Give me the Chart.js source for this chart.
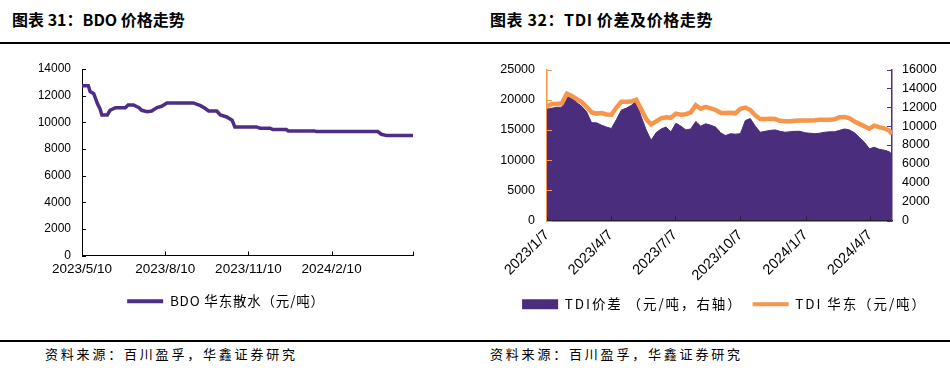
<!DOCTYPE html>
<html>
<head>
<meta charset="utf-8">
<title>BDO / TDI 价格走势</title>
<script src="https://cdn.jsdelivr.net/npm/chart.js"></script>
<style>
  body { margin: 0; width: 950px; height: 376px; background: #fff; position: relative; overflow: hidden; font-family: "Noto Sans CJK SC", sans-serif; }
  .title { position: absolute; top: 9px; font-size: 16px; line-height: 20px; font-weight: 700; color: #000; }
  .rule { position: absolute; left: 0; width: 950px; height: 2px; background: #000; }
  .src { position: absolute; top: 346px; font-size: 13px; line-height: 16px; letter-spacing: 2.8px; color: #000; }
  .box { position: absolute; top: 50px; height: 280px; }
</style>
</head>
<body>
<div class="title" style="left:12px">图表 31：BDO 价格走势</div>
<div class="title" style="left:490px;letter-spacing:0.6px">图表 32：TDI 价差及价格走势</div>
<div class="rule" style="top:42px"></div>
<div class="box" style="left:0;width:440px"><canvas id="bdoChart" width="440" height="280"></canvas></div>
<div class="box" style="left:475px;width:475px"><canvas id="tdiChart" width="475" height="280"></canvas></div>
<div class="rule" style="top:340px"></div>
<div class="src" style="left:45px">资料来源：百川盈孚，华鑫证券研究</div>
<div class="src" style="left:490px">资料来源：百川盈孚，华鑫证券研究</div>
<script>
// BDO 华东散水（元/吨）
const bdoDates = ['2023/5/10','2023/5/17','2023/5/19','2023/5/23','2023/5/27','2023/5/30','2023/6/1','2023/6/7',
  '2023/6/10','2023/6/16','2023/6/27','2023/6/30','2023/7/6','2023/7/12','2023/7/15','2023/7/21','2023/7/26',
  '2023/8/1','2023/8/6','2023/8/12','2023/9/10','2023/9/18','2023/9/23','2023/9/27','2023/10/6','2023/10/10',
  '2023/10/17','2023/10/23','2023/10/26','2023/11/19','2023/11/23','2023/12/4','2023/12/7','2023/12/22',
  '2023/12/24','2024/1/22','2024/1/24','2024/4/1','2024/4/5','2024/4/11','2024/5/10'];
const bdoPrice = [12750,12750,12300,12150,11400,11000,10550,10550,
  10900,11100,11100,11300,11300,11100,10900,10800,10850,
  11100,11200,11450,11450,11250,11050,10850,10850,10550,
  10400,10150,9650,9650,9550,9550,9450,9450,
  9350,9350,9300,9300,9100,9000,9000];
const bdoTickLabels = ['2023/5/10','2023/8/10','2023/11/10','2024/2/10'];
const bdoAxisEnd = '2024/5/10';

// TDI 价差（右轴）与 TDI 华东（左轴）
const tdiDates = ['2023/1/7','2023/1/14','2023/1/21','2023/1/28','2023/2/4','2023/2/11','2023/2/18','2023/2/25',
  '2023/3/4','2023/3/11','2023/3/18','2023/3/25','2023/4/1','2023/4/8','2023/4/15','2023/4/22','2023/4/29',
  '2023/5/6','2023/5/13','2023/5/20','2023/5/27','2023/6/3','2023/6/10','2023/6/17','2023/6/24',
  '2023/7/1','2023/7/8','2023/7/15','2023/7/22','2023/7/29','2023/8/5','2023/8/12','2023/8/19','2023/8/26',
  '2023/9/2','2023/9/9','2023/9/16','2023/9/23','2023/9/30','2023/10/7','2023/10/14','2023/10/21','2023/10/28',
  '2023/11/4','2023/11/11','2023/11/18','2023/11/25','2023/12/2','2023/12/9','2023/12/16','2023/12/23','2023/12/30',
  '2024/1/6','2024/1/13','2024/1/20','2024/1/27','2024/2/3','2024/2/10','2024/2/17','2024/2/24',
  '2024/3/2','2024/3/9','2024/3/16','2024/3/23','2024/3/30','2024/4/6','2024/4/13','2024/4/20','2024/4/27',
  '2024/5/4','2024/5/8'];
const tdiPrice = [18900,19300,19300,19400,21000,20600,20100,19600,
  18800,17900,17700,17800,17550,17500,18700,19650,19650,
  19700,20000,18400,16800,15900,16400,16900,17100,
  17000,17700,17500,17600,17900,19100,18500,18800,18550,
  18300,17850,17800,17850,17750,18500,18700,18300,17400,
  16800,16800,16850,16800,16500,16450,16450,16500,16550,
  16550,16550,16600,16700,16700,16700,16750,17100,
  17150,16900,16400,16000,15600,15200,15700,15450,15250,
  14900,14300];
const tdiSpread = [11800,11900,12000,12000,13600,13100,12500,12100,
  11500,10350,10350,10100,9900,9750,10700,11700,11900,
  12200,12650,11000,9600,8500,9300,9700,9900,
  9400,10300,10000,9600,9700,10500,10000,10250,10100,
  9900,9300,9000,9200,9150,9200,10600,10800,10000,
  9350,9450,9550,9600,9450,9350,9400,9450,9450,
  9300,9250,9200,9250,9350,9400,9400,9550,
  9700,9600,9300,8800,8300,7600,7750,7550,7450,
  7300,7000];
const tdiTickLabels = ['2023/1/7','2023/4/7','2023/7/7','2023/10/7','2024/1/7','2024/4/7'];

const PURPLE = '#4E2D85';
const AREA = '#4B2D7D';
const ORANGE = '#F7964B';
const NUM_FONT = 'Liberation Sans, Arial, sans-serif';
const CJK_FONT = '"Noto Sans CJK SC", sans-serif';

const dayOf = (s, s0) => Math.round((new Date(s) - new Date(s0)) / 864e5);
const plain = v => String(v);

// tick marks pointing into the plot area
function insideTicks(list) {
  return {
    id: 'insideTicks',
    afterDatasetsDraw(chart) {
      const ctx = chart.ctx;
      list.forEach(({ id, color, len }) => {
        const sc = chart.scales[id];
        ctx.save();
        ctx.strokeStyle = color;
        ctx.lineWidth = 1;
        ctx.beginPath();
        sc.ticks.forEach(t => {
          const p = Math.round(sc.getPixelForValue(t.value)) + 0.5;
          if (sc.position === 'bottom') { ctx.moveTo(p, sc.top); ctx.lineTo(p, sc.top - len); }
          else if (sc.position === 'left') { ctx.moveTo(sc.right, p); ctx.lineTo(sc.right + len, p); }
          else { ctx.moveTo(sc.left, p); ctx.lineTo(sc.left - len, p); }
        });
        ctx.stroke();
        ctx.restore();
      });
    }
  };
}

// wider letter spacing for legend text only
function spacedLegend(spacing) {
  return {
    id: 'spacedLegend',
    beforeUpdate(chart) {
      const lg = chart.legend;
      if (!lg || lg._spaced) return;
      lg._spaced = true;
      ['fit', 'draw'].forEach(fn => {
        const orig = lg[fn].bind(lg);
        lg[fn] = (...a) => {
          const prev = chart.ctx.letterSpacing;
          chart.ctx.letterSpacing = spacing;
          const r = orig(...a);
          chart.ctx.letterSpacing = prev;
          return r;
        };
      });
    }
  };
}

function legendOpts(styles) {
  return {
    position: 'bottom',
    labels: {
      usePointStyle: true, pointStyleWidth: 36, boxHeight: 10, padding: 10, color: '#222',
      font: { family: CJK_FONT, size: 13.5 },
      generateLabels: chart => chart.data.datasets.map((ds, i) => ({
        text: ds.label,
        pointStyle: styles[i].style,
        fillStyle: styles[i].color,
        strokeStyle: styles[i].color,
        lineWidth: styles[i].style === 'line' ? 4 : 0,
        datasetIndex: i,
        hidden: false
      }))
    }
  };
}

// ---- left chart: BDO ----
const bdoEnd = dayOf(bdoAxisEnd, bdoDates[0]);
const bdoTickDays = bdoTickLabels.map(d => dayOf(d, bdoDates[0]));

new Chart(document.getElementById('bdoChart'), {
  type: 'line',
  data: {
    datasets: [{
      label: 'BDO 华东散水（元/吨）',
      data: bdoDates.map((d, i) => ({ x: dayOf(d, bdoDates[0]), y: bdoPrice[i] })),
      borderColor: PURPLE, borderWidth: 3.5, pointRadius: 0, tension: 0, fill: false
    }]
  },
  options: {
    responsive: false,
    animation: false,
    layout: { padding: { top: 19, right: 27, bottom: 12, left: 39 } },
    plugins: {
      legend: legendOpts([{ style: 'line', color: PURPLE }]),
      tooltip: { enabled: false }
    },
    scales: {
      x: {
        type: 'linear', min: 0, max: bdoEnd,
        afterBuildTicks: s => { s.ticks = bdoTickDays.concat([bdoEnd]).map(v => ({ value: v })); },
        afterFit: s => { s.height = 29; },
        grid: { display: false, drawTicks: false },
        border: { color: '#000', width: 1 },
        ticks: {
          autoSkip: false, maxRotation: 0, padding: 6, color: '#000',
          font: { family: NUM_FONT, size: 13.5 },
          callback: (v, i) => bdoTickLabels[i] || ''
        }
      },
      y: {
        min: 0, max: 14000,
        afterFit: s => { s.width = 43; },
        grid: { display: false, drawTicks: false },
        border: { color: '#000', width: 1 },
        ticks: { stepSize: 2000, padding: 11, color: '#000', font: { family: NUM_FONT, size: 12 }, callback: plain }
      }
    }
  },
  plugins: [
    insideTicks([{ id: 'x', color: '#000', len: 4 }, { id: 'y', color: '#000', len: 4 }]),
    spacedLegend('0.8px')
  ]
});

// ---- right chart: TDI ----
const tdiEnd = dayOf(tdiDates[tdiDates.length - 1], tdiDates[0]);
const tdiTickDays = tdiTickLabels.map(d => dayOf(d, tdiDates[0]));

new Chart(document.getElementById('tdiChart'), {
  type: 'line',
  data: {
    datasets: [{
      label: 'TDI价差 （元/吨，右轴）',
      data: tdiDates.map((d, i) => ({ x: dayOf(d, tdiDates[0]), y: tdiSpread[i] })),
      yAxisID: 'y2', fill: 'origin', backgroundColor: AREA, borderColor: AREA, borderWidth: 1,
      pointRadius: 0, tension: 0, order: 2
    }, {
      label: 'TDI 华东（元/吨）',
      data: tdiDates.map((d, i) => ({ x: dayOf(d, tdiDates[0]), y: tdiPrice[i] })),
      yAxisID: 'y', fill: false, borderColor: ORANGE, borderWidth: 4.5,
      pointRadius: 0, tension: 0, order: 1
    }]
  },
  options: {
    responsive: false,
    animation: false,
    layout: { padding: { top: 15, right: 0, bottom: 9, left: 24 } },
    plugins: {
      legend: legendOpts([{ style: 'rect', color: AREA }, { style: 'line', color: ORANGE }]),
      tooltip: { enabled: false }
    },
    scales: {
      x: {
        type: 'linear', min: 0, max: tdiEnd,
        afterBuildTicks: s => { s.ticks = tdiTickDays.map(v => ({ value: v })); },
        afterFit: s => { s.height = 67; },
        grid: { display: false, drawTicks: false },
        border: { color: '#222', width: 1.5 },
        ticks: {
          autoSkip: false, minRotation: 45, maxRotation: 45, padding: 6, color: '#000',
          font: { family: NUM_FONT, size: 14.5 },
          callback: (v, i) => tdiTickLabels[i]
        }
      },
      y: {
        position: 'left', min: 0, max: 25000,
        afterFit: s => { s.width = 48; },
        grid: { display: false, drawTicks: false },
        border: { color: ORANGE, width: 1.5 },
        ticks: { stepSize: 5000, padding: 12, color: '#000', font: { family: NUM_FONT, size: 12.5 }, callback: plain }
      },
      y2: {
        position: 'right', min: 0, max: 16000,
        afterFit: s => { s.width = 58; },
        grid: { display: false, drawTicks: false },
        border: { color: PURPLE, width: 1.5 },
        ticks: { stepSize: 2000, padding: 10, color: '#000', font: { family: NUM_FONT, size: 12.5 }, callback: plain }
      }
    }
  },
  plugins: [
    insideTicks([
      { id: 'x', color: '#222', len: 4 },
      { id: 'y', color: ORANGE, len: 5 },
      { id: 'y2', color: PURPLE, len: 5 }
    ]),
    spacedLegend('1.9px')
  ]
});
</script>
</body>
</html>
